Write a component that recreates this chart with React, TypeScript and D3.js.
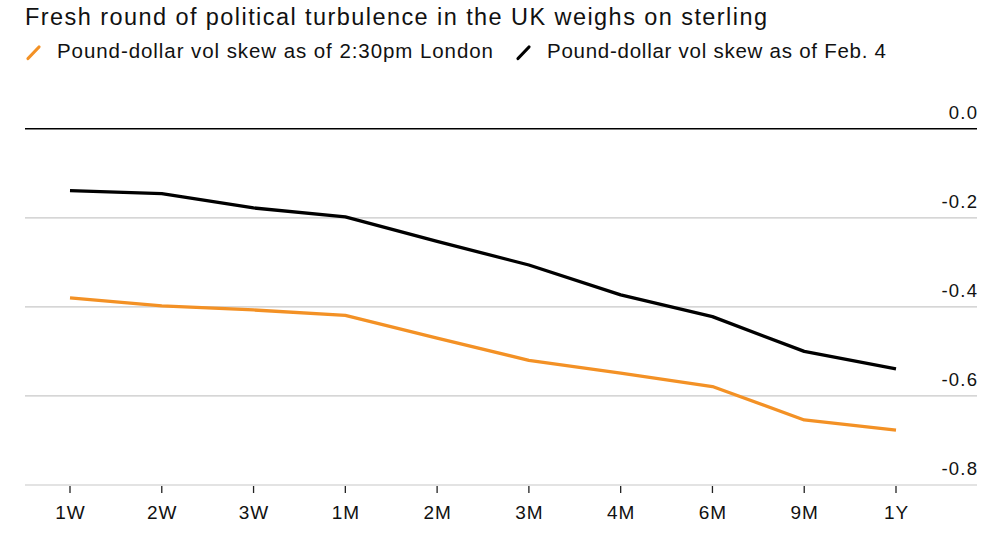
import React, { useEffect } from "react";
import * as d3 from "d3";

const tenors = ["1W", "2W", "3W", "1M", "2M", "3M", "4M", "6M", "9M", "1Y"];
const skewLondon = [-0.38, -0.398, -0.407, -0.419, -0.47, -0.52, -0.549, -0.579, -0.654, -0.677];
const skewFeb4 = [-0.139, -0.146, -0.178, -0.198, -0.253, -0.306, -0.373, -0.422, -0.5, -0.539];
const yTicks = [0, -0.2, -0.4, -0.6, -0.8];

const title = "Fresh round of political turbulence in the UK weighs on sterling";
const legendItems = [
  { label: "Pound-dollar vol skew as of 2:30pm London", color: "#f39125", x: 27, width: 436 },
  { label: "Pound-dollar vol skew as of Feb. 4", color: "#000000", x: 517, width: 339 },
];

const W = 1000;
const H = 545;
const FONT = "'Liberation Sans', Arial, Helvetica, sans-serif";

const App: React.FC = () => {
  useEffect(() => {
    document.body.style.margin = "0";
  }, []);

  const x = d3.scalePoint<string>().domain(tenors).range([70, 896]);
  const y = d3.scaleLinear().domain([0, -0.8]).range([128.7, 485]);
  const gridLeft = 25;
  const gridRight = 977;

  const line = d3
    .line<number>()
    .x((_, i) => x(tenors[i])!)
    .y((d) => y(d));

  return (
    <svg width={W} height={H} style={{ display: "block", fontFamily: FONT }}>
      <rect width={W} height={H} fill="#fff" />
      <text x={25} y={24.5} fontSize={23.5} fill="#111" textLength={742} lengthAdjust="spacing">
        {title}
      </text>

      {/* legend */}
      {legendItems.map((l) => (
        <g key={l.label}>
          <line
            x1={l.x + 1}
            y1={58.5}
            x2={l.x + 12}
            y2={47}
            stroke={l.color}
            strokeWidth={3.2}
            strokeLinecap="round"
          />
          <text
            x={l.x + 30}
            y={57.5}
            fontSize={20.5}
            fill="#111"
            textLength={l.width}
            lengthAdjust="spacing"
          >
            {l.label}
          </text>
        </g>
      ))}

      {/* gridlines & y labels */}
      {yTicks.map((t) => (
        <g key={t}>
          <line
            x1={gridLeft}
            x2={gridRight}
            y1={y(t)}
            y2={y(t)}
            stroke={t === 0 ? "#000" : "#c8c8c8"}
            strokeWidth={t === 0 ? 1.5 : 1.2}
          />
          <text
            x={gridRight + 1.2}
            y={y(t) - 10}
            fontSize={18.5}
            letterSpacing={1.2}
            textAnchor="end"
            fill="#111"
          >
            {d3.format(".1f")(t).replace("−", "-")}
          </text>
        </g>
      ))}

      {/* x ticks */}
      {tenors.map((t) => (
        <g key={t} transform={`translate(${x(t)},0)`}>
          <line y1={y(-0.8) + 1} y2={y(-0.8) + 8} stroke="#222" strokeWidth={1.3} />
          <text
            x={0.5}
            y={y(-0.8) + 34}
            fontSize={19}
            letterSpacing={1}
            textAnchor="middle"
            fill="#111"
          >
            {t}
          </text>
        </g>
      ))}

      <path d={line(skewFeb4) ?? ""} fill="none" stroke="#000" strokeWidth={3.3} strokeLinejoin="round" />
      <path d={line(skewLondon) ?? ""} fill="none" stroke="#f39125" strokeWidth={3.3} strokeLinejoin="round" />
    </svg>
  );
};

export default App;
